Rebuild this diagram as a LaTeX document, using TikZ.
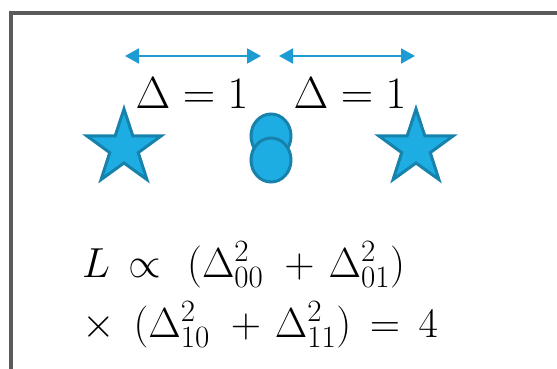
\RequirePackage{fix-cm}
\documentclass[tikz,border=0pt]{standalone}
\usetikzlibrary{arrows.meta,shapes.geometric}
\DeclareMathSizes{42}{42}{31}{23}
\newcommand\myeqspacing{\medmuskip=6mu\relax\thickmuskip=8mu\relax}
\definecolor{frameg}{HTML}{5A5A5A}
\definecolor{arrowc}{HTML}{1C9CD3}
\definecolor{fillc}{HTML}{1EADE3}
\definecolor{edgec}{HTML}{1782AC}
\tikzset{
  dimarrow/.style={arrowc,line width=2pt,{Triangle[length=14pt,width=15pt]}-{Triangle[length=14pt,width=15pt]}},
  starnode/.style={star,star points=5,star point ratio=2.6,minimum size=78pt,inner sep=0pt,fill=fillc,draw=edgec,line width=3pt},
  dotnode/.style={ellipse,minimum width=40pt,minimum height=44pt,inner sep=0pt,fill=fillc,draw=edgec,line width=3pt},
  bigtxt/.style={font=\fontsize{45}{50}\selectfont,inner sep=0pt,anchor=base},
  eqtxt/.style={font={\fontsize{42}{48}\selectfont\myeqspacing},inner sep=0pt,anchor=base west}
}
\begin{document}
\begin{tikzpicture}[x=1pt,y=-1pt]
\useasboundingbox (0,0) rectangle (557,369);
\coordinate (fb) at (10.5,369);
\coordinate (fc) at (10.5,13);
\coordinate (fr) at (557,13);
\draw[frameg,line width=4pt] (fb) -- (fc) -- (fr);
\coordinate (a1) at (125,56);
\coordinate (a2) at (261,56);
\coordinate (b1) at (279,56);
\coordinate (b2) at (415,56);
\draw[dimarrow] (a1) -- (a2);
\draw[dimarrow] (b1) -- (b2);
\node[bigtxt] (d1) at (192,108) {$\Delta=1$};
\node[bigtxt] (d2) at (350,108) {$\Delta=1$};
\node[starnode] (s1) at (124,148) {};
\node[starnode] (s2) at (416,148) {};
\node[dotnode] (c1) at (271,136) {};
\node[dotnode] (c2) at (271,160) {};
\node[eqtxt] (e1) at (82,277) {$L\propto\,(\Delta_{00}^2\,+\Delta_{01}^2)$};
\node[eqtxt] (e2) at (82,337) {$\times\;(\Delta_{10}^2\,+\Delta_{11}^2)=4$};
\end{tikzpicture}
\end{document}
